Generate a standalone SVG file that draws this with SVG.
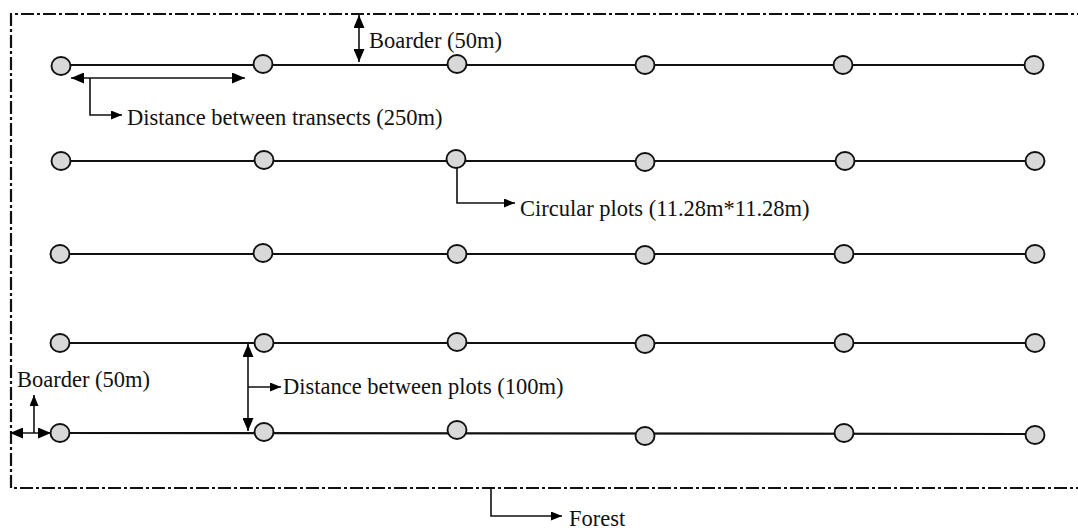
<svg xmlns="http://www.w3.org/2000/svg" width="1078" height="530" viewBox="0 0 1078 530">
  <style>
    .lbl { font-family: "Liberation Serif", "Times New Roman", serif; font-size: 22.5px; fill: #111; }
    .transect { stroke: #111; stroke-width: 2.2; fill: none; }
    .plot { fill: #d8d8d8; stroke: #111; stroke-width: 1.9; }
    .dim { stroke: #111; stroke-width: 1.6; fill: none; }
    .boundary { stroke: #111; stroke-width: 2.2; fill: none; stroke-dasharray: 13 3 3 3; }
  </style>
  <defs>
    <marker id="big" viewBox="0 0 13 11" refX="13" refY="5.5" markerWidth="13" markerHeight="11" markerUnits="userSpaceOnUse" orient="auto-start-reverse">
      <path d="M0,0 L13,5.5 L0,11 Z" fill="#000"/>
    </marker>
    <marker id="small" viewBox="0 0 11 9" refX="11" refY="4.5" markerWidth="11" markerHeight="9" markerUnits="userSpaceOnUse" orient="auto">
      <path d="M0,0 L11,4.5 L0,9 Z" fill="#000"/>
    </marker>
  </defs>

  <!-- forest boundary (dash-dot), right edge runs off the sheet -->
  <g id="forest-boundary">
    <path class="boundary" d="M1090,14 H11 V488 H1090"/>
  </g>

  <!-- transect lines -->
  <g id="transects">
    <line class="transect" x1="61" y1="65" x2="1034" y2="65"/>
    <line class="transect" x1="61" y1="161" x2="1040" y2="161"/>
    <line class="transect" x1="60" y1="254" x2="1035" y2="254"/>
    <line class="transect" x1="60" y1="343" x2="1035" y2="343"/>
    <line class="transect" x1="60" y1="433" x2="1035" y2="434"/>
  </g>

  <!-- dimension and label connectors -->
  <g id="connectors">
    <!-- top border -->
    <line class="dim" x1="359" y1="15" x2="359" y2="62" marker-start="url(#big)" marker-end="url(#big)"/>
    <!-- distance between transects -->
    <line class="dim" x1="71" y1="78" x2="245" y2="78" marker-start="url(#big)" marker-end="url(#big)"/>
    <polyline class="dim" points="90,78 90,115 122,115" marker-end="url(#small)"/>
    <!-- circular plot callout -->
    <polyline class="dim" points="457,168 457,203 515,203" marker-end="url(#small)"/>
    <!-- distance between plots -->
    <line class="dim" x1="248" y1="344" x2="248" y2="431" marker-start="url(#big)" marker-end="url(#big)"/>
    <polyline class="dim" points="248,387 281,387" marker-end="url(#small)"/>
    <!-- left border -->
    <line class="dim" x1="10" y1="433" x2="51" y2="433" marker-start="url(#big)" marker-end="url(#big)"/>
    <line class="dim" x1="34" y1="433" x2="34" y2="395" marker-end="url(#small)"/>
    <!-- forest callout -->
    <polyline class="dim" points="491,489 491,516 562,516" marker-end="url(#small)"/>
  </g>

  <!-- circular plots -->
  <g id="plots-row1">
    <ellipse class="plot" cx="61" cy="66" rx="9.5" ry="9"/>
    <ellipse class="plot" cx="263" cy="64" rx="9.5" ry="9"/>
    <ellipse class="plot" cx="457" cy="64" rx="9.5" ry="9"/>
    <ellipse class="plot" cx="645" cy="65" rx="9.5" ry="9"/>
    <ellipse class="plot" cx="843" cy="65" rx="9.5" ry="9"/>
    <ellipse class="plot" cx="1034" cy="65" rx="9.5" ry="9"/>
  </g>
  <g id="plots-row2">
    <ellipse class="plot" cx="61" cy="161" rx="9.5" ry="9"/>
    <ellipse class="plot" cx="264" cy="160" rx="9.5" ry="9"/>
    <ellipse class="plot" cx="456" cy="159" rx="9.5" ry="9"/>
    <ellipse class="plot" cx="645" cy="162" rx="9.5" ry="9"/>
    <ellipse class="plot" cx="845" cy="161" rx="9.5" ry="9"/>
    <ellipse class="plot" cx="1035" cy="161" rx="9.5" ry="9"/>
  </g>
  <g id="plots-row3">
    <ellipse class="plot" cx="60" cy="254" rx="9.5" ry="9"/>
    <ellipse class="plot" cx="263" cy="253" rx="9.5" ry="9"/>
    <ellipse class="plot" cx="457" cy="254" rx="9.5" ry="9"/>
    <ellipse class="plot" cx="645" cy="255" rx="9.5" ry="9"/>
    <ellipse class="plot" cx="844" cy="254" rx="9.5" ry="9"/>
    <ellipse class="plot" cx="1035" cy="254" rx="9.5" ry="9"/>
  </g>
  <g id="plots-row4">
    <ellipse class="plot" cx="60" cy="343" rx="9.5" ry="9"/>
    <ellipse class="plot" cx="264" cy="343" rx="9.5" ry="9"/>
    <ellipse class="plot" cx="457" cy="342" rx="9.5" ry="9"/>
    <ellipse class="plot" cx="645" cy="344" rx="9.5" ry="9"/>
    <ellipse class="plot" cx="844" cy="343" rx="9.5" ry="9"/>
    <ellipse class="plot" cx="1035" cy="343" rx="9.5" ry="9"/>
  </g>
  <g id="plots-row5">
    <ellipse class="plot" cx="60" cy="433" rx="9.5" ry="9"/>
    <ellipse class="plot" cx="264" cy="432" rx="9.5" ry="9"/>
    <ellipse class="plot" cx="457" cy="430" rx="9.5" ry="9"/>
    <ellipse class="plot" cx="645" cy="436" rx="9.5" ry="9"/>
    <ellipse class="plot" cx="844" cy="433" rx="9.5" ry="9"/>
    <ellipse class="plot" cx="1035" cy="435" rx="9.5" ry="9"/>
  </g>

  <!-- labels -->
  <g id="label-border-top"><text class="lbl" x="369" y="48">Boarder (50m)</text></g>
  <g id="label-transects"><text class="lbl" x="127" y="125">Distance between transects (250m)</text></g>
  <g id="label-plots"><text class="lbl" x="520" y="216">Circular plots (11.28m*11.28m)</text></g>
  <g id="label-border-left"><text class="lbl" x="17" y="387">Boarder (50m)</text></g>
  <g id="label-plot-distance"><text class="lbl" x="283" y="394">Distance between plots (100m)</text></g>
  <g id="label-forest"><text class="lbl" x="569" y="526">Forest</text></g>
</svg>
